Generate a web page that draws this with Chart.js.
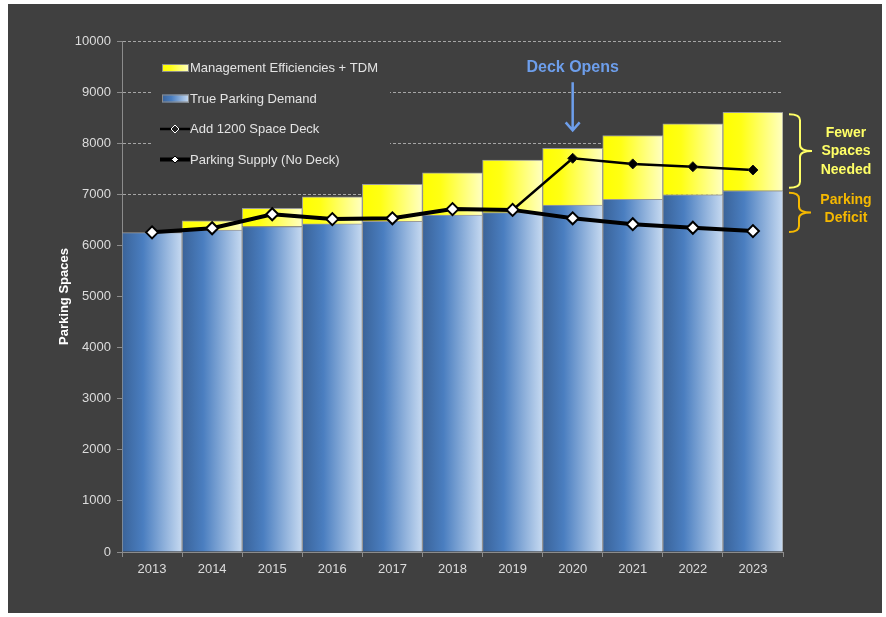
<!DOCTYPE html>
<html>
<head>
<meta charset="utf-8">
<script src="https://cdn.jsdelivr.net/npm/chart.js@4"></script>
<style>
  body { margin: 0; background: #fff; }
  #frame { position: absolute; left: 8px; top: 4px; width: 874px; height: 609px; background: #404040; }
  #wrap { position: absolute; left: 0; top: 0; width: 886px; height: 617px; }
</style>
</head>
<body>
<div id="frame"></div>
<div id="wrap"><canvas id="chart"></canvas></div>
<script>
const YEARS = ["2013", "2014", "2015", "2016", "2017", "2018", "2019", "2020", "2021", "2022", "2023"];
const TRUE_DEMAND = [6250, 6300, 6370, 6420, 6470, 6595, 6640, 6790, 6900, 6990, 7070];
const EFFICIENCIES = [null, 180, 355, 530, 725, 825, 1030, 1110, 1250, 1390, 1535];
const WITH_DECK = [6255, 6335, 6610, 6515, 6530, 6710, 6695, 7705, 7595, 7540, 7475];
const NO_DECK = [6255, 6335, 6610, 6515, 6530, 6710, 6695, 6530, 6415, 6345, 6280];
const Y_TICKS = { min: 0, max: 10000, step: 1000 };

const SANS = "'Liberation Sans', Arial, sans-serif";
const BG = "#404040";

// horizontal gradient across each bar's category slot
function hGradient(stops) {
  return function (context) {
    const chart = context.chart;
    const x = chart.scales.x;
    if (!x || context.type !== "data") return stops[0][1];
    const center = x.getPixelForValue(context.dataIndex);
    const half = (x.getPixelForValue(1) - x.getPixelForValue(0)) / 2;
    if (!isFinite(center) || !isFinite(half) || half <= 0) return stops[0][1];
    const g = chart.ctx.createLinearGradient(center - half, 0, center + half, 0);
    stops.forEach(s => g.addColorStop(s[0], s[1]));
    return g;
  };
}

const BLUE_STOPS = [[0, "#3a6399"], [0.35, "#4a7ec0"], [1, "#c7daf1"]];
const YELLOW_STOPS = [[0, "#ffff00"], [0.3, "#ffff14"], [1, "#ffffc2"]];

function drawBrace(ctx, x0, xv, xt, y1, y2, color) {
  const ym = (y1 + y2) / 2;
  const r = 6;
  ctx.save();
  ctx.strokeStyle = color;
  ctx.lineWidth = 2;
  ctx.beginPath();
  ctx.moveTo(x0, y1);
  ctx.quadraticCurveTo(xv, y1, xv, y1 + r);
  ctx.lineTo(xv, ym - r);
  ctx.quadraticCurveTo(xv, ym, xt, ym);
  ctx.moveTo(xt, ym);
  ctx.quadraticCurveTo(xv, ym, xv, ym + r);
  ctx.lineTo(xv, y2 - r);
  ctx.quadraticCurveTo(xv, y2, x0, y2);
  ctx.stroke();
  ctx.restore();
}

const legendAndNotes = {
  id: "legendAndNotes",
  beforeDatasetsDraw(chart) {
    const { ctx, chartArea } = chart;
    // legend box hides the grid lines behind it
    ctx.save();
    ctx.fillStyle = BG;
    ctx.fillRect(chartArea.left + 31, chartArea.top + 4, 237, 131);
    ctx.restore();
  },
  afterDraw(chart) {
    const { ctx, chartArea } = chart;
    const x = chart.scales.x, y = chart.scales.y;
    const ds = chart.data.datasets;

    // legend
    ctx.save();
    ctx.font = "13px " + SANS;
    ctx.textBaseline = "middle";
    const lx = chartArea.left + 40;
    ds.forEach((d, i) => {
      const cy = chartArea.top + 27 + i * 30.5;
      if (d.type === "bar") {
        const stops = d.label.startsWith("True") ? BLUE_STOPS : YELLOW_STOPS;
        const g = ctx.createLinearGradient(lx, 0, lx + 27, 0);
        stops.forEach(s => g.addColorStop(s[0], s[1]));
        ctx.fillStyle = g;
        ctx.fillRect(lx, cy - 4, 27, 8);
        ctx.strokeStyle = "#8c8c8c";
        ctx.lineWidth = 1;
        ctx.strokeRect(lx + 0.5, cy - 3.5, 26, 7);
      } else {
        ctx.strokeStyle = "#000";
        ctx.lineWidth = d.borderWidth;
        ctx.beginPath();
        ctx.moveTo(lx - 2, cy);
        ctx.lineTo(lx + 28, cy);
        ctx.stroke();
        const r = d.label.startsWith("Add") ? 4 : 3.5;
        ctx.beginPath();
        ctx.moveTo(lx + 13, cy - r);
        ctx.lineTo(lx + 13 + r, cy);
        ctx.lineTo(lx + 13, cy + r);
        ctx.lineTo(lx + 13 - r, cy);
        ctx.closePath();
        ctx.fillStyle = d.label.startsWith("Add") ? "#222" : "#fff";
        ctx.fill();
        ctx.strokeStyle = d.label.startsWith("Add") ? "#fff" : "#000";
        ctx.lineWidth = 1;
        ctx.stroke();
      }
      ctx.fillStyle = "#e3e3e3";
      ctx.fillText(d.label, lx + 28, cy + 0.5);
    });
    ctx.restore();

    // "Deck Opens" arrow over 2020
    const di = YEARS.indexOf("2020");
    const ax = x.getPixelForValue(di);
    const tip = y.getPixelForValue(TRUE_DEMAND[di] + EFFICIENCIES[di]) - 18;
    const top = tip - 48;
    ctx.save();
    ctx.strokeStyle = "#6d9eeb";
    ctx.fillStyle = "#6d9eeb";
    ctx.lineWidth = 2.5;
    ctx.beginPath();
    ctx.moveTo(ax, top);
    ctx.lineTo(ax, tip);
    ctx.moveTo(ax - 7, tip - 8);
    ctx.lineTo(ax, tip);
    ctx.lineTo(ax + 7, tip - 8);
    ctx.stroke();
    ctx.font = "bold 16px " + SANS;
    ctx.textAlign = "center";
    ctx.textBaseline = "middle";
    ctx.fillText("Deck Opens", ax, top - 15);
    ctx.restore();

    // braces on the 2023 bar
    const last = YEARS.length - 1;
    const yTotal = y.getPixelForValue(TRUE_DEMAND[last] + EFFICIENCIES[last]);
    const yDemand = y.getPixelForValue(TRUE_DEMAND[last]);
    const ySupply = y.getPixelForValue(NO_DECK[last]);
    const r = chartArea.right;
    drawBrace(ctx, r + 6, r + 17, r + 29, yTotal + 2, yDemand - 3, "#ffff66");
    drawBrace(ctx, r + 6, r + 16, r + 28, yDemand + 2, ySupply + 1, "#f5b800");

    ctx.save();
    ctx.font = "bold 14px " + SANS;
    ctx.textAlign = "center";
    ctx.textBaseline = "middle";
    const tx = r + 63;
    const m1 = (yTotal + yDemand) / 2;
    ctx.fillStyle = "#ffff66";
    ["Fewer", "Spaces", "Needed"].forEach((t, i) => ctx.fillText(t, tx, m1 + (i - 1) * 18.5));
    const m2 = (yDemand + ySupply) / 2;
    ctx.fillStyle = "#f5b800";
    ["Parking", "Deficit"].forEach((t, i) => ctx.fillText(t, tx, m2 + (i - 0.5) * 18 - 2));
    ctx.restore();
  }
};

new Chart(document.getElementById("chart"), {
  data: {
    labels: YEARS,
    datasets: [
      {
        type: "bar",
        label: "Management Efficiencies + TDM",
        data: EFFICIENCIES,
        stack: "bars",
        order: 3,
        backgroundColor: hGradient(YELLOW_STOPS),
        borderColor: "#9a9a9a",
        borderWidth: 1,
        barPercentage: 1,
        categoryPercentage: 1
      },
      {
        type: "bar",
        label: "True Parking Demand",
        data: TRUE_DEMAND,
        stack: "bars",
        order: 2,
        backgroundColor: hGradient(BLUE_STOPS),
        borderColor: "#9a9a9a",
        borderWidth: 1,
        barPercentage: 1,
        categoryPercentage: 1
      },
      {
        type: "line",
        label: "Add 1200 Space Deck",
        data: WITH_DECK,
        stack: "deck",
        order: 1,
        borderColor: "#000",
        borderWidth: 2.5,
        pointStyle: "rectRot",
        pointRadius: 5,
        pointBackgroundColor: "#000",
        pointBorderColor: "#1a1a1a",
        pointBorderWidth: 1
      },
      {
        type: "line",
        label: "Parking Supply (No Deck)",
        data: NO_DECK,
        stack: "nodeck",
        order: 0,
        borderColor: "#000",
        borderWidth: 4,
        pointStyle: "rectRot",
        pointRadius: 6,
        pointBackgroundColor: "#fff",
        pointBorderColor: "#000",
        pointBorderWidth: 2
      }
    ]
  },
  options: {
    responsive: true,
    maintainAspectRatio: false,
    animation: false,
    layout: { padding: { left: 52, top: 41, right: 103, bottom: 0 } },
    plugins: {
      legend: { display: false },
      tooltip: { enabled: false }
    },
    scales: {
      x: {
        stacked: true,
        afterFit: s => { s.height = 65; },
        grid: { drawOnChartArea: false, drawTicks: true, tickLength: 5, tickColor: "#8c8c8c" },
        border: { color: "#8c8c8c" },
        ticks: { color: "#dcdcdc", font: { family: SANS, size: 13 }, padding: 5 }
      },
      y: {
        stacked: true,
        min: Y_TICKS.min,
        max: Y_TICKS.max,
        afterFit: s => { s.width = 70; },
        grid: { color: "#a6a6a6", drawTicks: true, tickLength: 5, tickColor: "#8c8c8c" },
        border: { color: "#8c8c8c", dash: [3, 2] },
        ticks: {
          stepSize: Y_TICKS.step,
          color: "#dcdcdc",
          font: { family: SANS, size: 13 },
          padding: 6,
          callback: v => String(v)
        },
        title: {
          display: true,
          text: "Parking Spaces",
          color: "#ffffff",
          font: { family: SANS, size: 13, weight: "bold" },
          padding: { top: 5, bottom: 4 }
        }
      }
    }
  },
  plugins: [legendAndNotes]
});
</script>
</body>
</html>
